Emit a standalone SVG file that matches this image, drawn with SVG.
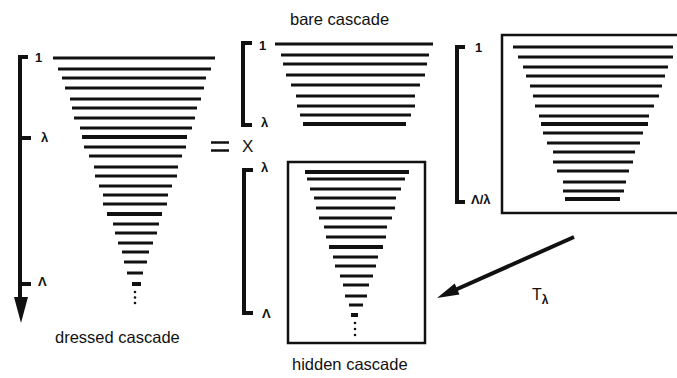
<svg xmlns="http://www.w3.org/2000/svg" width="677" height="378" viewBox="0 0 677 378">
<style>
.c{stroke:#111;stroke-width:3;stroke-linecap:butt}
.t{stroke-width:4}
.br{fill:none;stroke:#111;stroke-width:4}
.box{fill:none;stroke:#111;stroke-width:2.5}
.lbl{font-family:"Liberation Sans",Arial,sans-serif;font-size:13px;font-weight:bold;fill:#111}
.ttl{font-family:"Liberation Sans",Arial,sans-serif;font-size:16.5px;fill:#111}
.dot{fill:#111}
</style>
<rect width="677" height="378" fill="#fff"/>

<g id="dressed">
<path class="br" d="M28,57 H20 V300"/>
<polygon points="14,297 28,297 21,323" fill="#111"/>
<path class="br" d="M20,138 H31 M20,284 H31"/>
<text class="lbl" x="35" y="62">1</text>
<text class="lbl" x="41" y="142">λ</text>
<text class="lbl" x="38" y="286">Λ</text>
<g class="c">
<line x1="53" y1="58" x2="215" y2="58"/>
<line x1="58" y1="69" x2="211" y2="69"/>
<line x1="62" y1="78" x2="206" y2="78"/>
<line x1="65" y1="88" x2="204" y2="88"/>
<line x1="70" y1="99" x2="201" y2="99"/>
<line x1="72" y1="108" x2="197" y2="108"/>
<line x1="74" y1="118" x2="195" y2="118"/>
<line x1="80" y1="128" x2="192" y2="128"/>
<line class="t" x1="82" y1="137" x2="187" y2="137"/>
<line x1="84" y1="147" x2="186" y2="147"/>
<line x1="89" y1="156" x2="182" y2="156"/>
<line x1="94" y1="167" x2="178" y2="167"/>
<line x1="95" y1="176" x2="177" y2="176"/>
<line x1="99" y1="186" x2="172" y2="186"/>
<line x1="103" y1="195" x2="168" y2="195"/>
<line x1="103" y1="204" x2="167" y2="204"/>
<line class="t" x1="107" y1="214" x2="162" y2="214"/>
<line x1="113" y1="224" x2="159" y2="224"/>
<line x1="115" y1="233" x2="157" y2="233"/>
<line x1="118" y1="243" x2="153" y2="243"/>
<line x1="122" y1="252" x2="149" y2="252"/>
<line x1="124" y1="262" x2="147" y2="262"/>
<line x1="127" y1="273" x2="143" y2="273"/>
<line class="t" x1="132" y1="284" x2="141" y2="284"/>
</g>
<circle class="dot" cx="135" cy="292" r="1.3"/>
<circle class="dot" cx="135" cy="297.5" r="1.3"/>
<circle class="dot" cx="135" cy="303" r="1.3"/>
<text class="ttl" x="55" y="343">dressed cascade</text>
</g>

<g id="ops">
<path d="M211,142.5 H229 M211,150.5 H229" stroke="#111" stroke-width="2.5"/>
<text class="ttl" x="242" y="152" style="font-size:17px">X</text>
</g>

<g id="bare">
<text class="ttl" x="290" y="25">bare cascade</text>
<path class="br" d="M252,43 H243 V125 H252"/>
<text class="lbl" x="259" y="50">1</text>
<text class="lbl" x="261" y="127">λ</text>
<g class="c">
<line x1="275" y1="44" x2="433" y2="44"/>
<line x1="281" y1="55" x2="429" y2="55"/>
<line x1="283" y1="64" x2="427" y2="64"/>
<line x1="286" y1="75" x2="425" y2="75"/>
<line x1="291" y1="85" x2="420" y2="85"/>
<line x1="296" y1="96" x2="415" y2="96"/>
<line x1="297" y1="106" x2="415" y2="106"/>
<line x1="300" y1="115" x2="411" y2="115"/>
<line class="t" x1="303" y1="124" x2="406" y2="124"/>
</g>
</g>

<g id="hidden">
<path class="br" d="M253,170 H244 V313 H253"/>
<text class="lbl" x="261" y="172">λ</text>
<text class="lbl" x="262" y="318">Λ</text>
<rect class="box" x="288" y="162" width="137" height="181"/>
<g class="c">
<line class="t" x1="305" y1="172" x2="409" y2="172"/>
<line x1="307" y1="179" x2="405" y2="179"/>
<line x1="310" y1="189" x2="401" y2="189"/>
<line x1="314" y1="198" x2="396" y2="198"/>
<line x1="316" y1="208" x2="395" y2="208"/>
<line x1="319" y1="218" x2="392" y2="218"/>
<line x1="324" y1="227" x2="387" y2="227"/>
<line x1="326" y1="237" x2="386" y2="237"/>
<line class="t" x1="329" y1="247" x2="383" y2="247"/>
<line x1="333" y1="257" x2="378" y2="257"/>
<line x1="335" y1="266" x2="376" y2="266"/>
<line x1="340" y1="276" x2="373" y2="276"/>
<line x1="343" y1="285" x2="369" y2="285"/>
<line x1="345" y1="296" x2="367" y2="296"/>
<line x1="349" y1="305" x2="363" y2="305"/>
<line class="t" x1="351" y1="315" x2="358" y2="315"/>
</g>
<circle class="dot" cx="355" cy="323" r="1.3"/>
<circle class="dot" cx="355" cy="329" r="1.3"/>
<circle class="dot" cx="355" cy="335" r="1.3"/>
<text class="ttl" x="292" y="370">hidden cascade</text>
</g>

<g id="rescaled">
<path class="br" d="M465,47 H457 V202 H465"/>
<text class="lbl" x="475" y="52">1</text>
<text class="lbl" x="471" y="204">Λ/λ</text>
<rect class="box" x="502" y="35" width="180" height="178"/>
<g class="c">
<line x1="513" y1="47" x2="673" y2="47"/>
<line x1="518" y1="57" x2="673" y2="57"/>
<line x1="523" y1="67" x2="668" y2="67"/>
<line x1="526" y1="76" x2="665" y2="76"/>
<line x1="530" y1="86" x2="662" y2="86"/>
<line x1="533" y1="96" x2="659" y2="96"/>
<line x1="535" y1="106" x2="654" y2="106"/>
<line x1="539" y1="116" x2="649" y2="116"/>
<line class="t" x1="541" y1="124" x2="648" y2="124"/>
<line x1="543" y1="133" x2="643" y2="133"/>
<line x1="547" y1="143" x2="640" y2="143"/>
<line x1="553" y1="152" x2="635" y2="152"/>
<line x1="553" y1="162" x2="633" y2="162"/>
<line x1="557" y1="171" x2="629" y2="171"/>
<line x1="563" y1="182" x2="626" y2="182"/>
<line x1="563" y1="191" x2="624" y2="191"/>
<line class="t" x1="565" y1="199" x2="620" y2="199"/>
</g>
</g>

<g id="connectors">
<line x1="574" y1="237" x2="455" y2="290" stroke="#111" stroke-width="4"/>
<polygon points="437,298 454.7,283.6 459.5,294.6" fill="#111"/>
<text class="ttl" x="532" y="300" style="font-size:16px">T<tspan dy="4" style="font-size:12px;font-weight:bold">λ</tspan></text>
</g>
</svg>
